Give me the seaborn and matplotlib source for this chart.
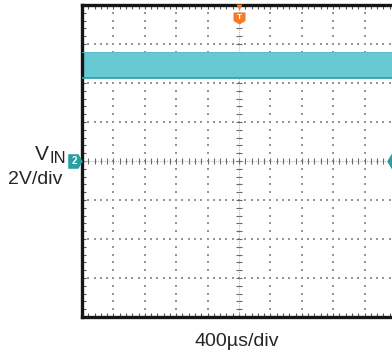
import numpy as np
import pandas as pd
import matplotlib
matplotlib.use("Agg")
import matplotlib.pyplot as plt
import seaborn as sns
from matplotlib.ticker import MultipleLocator

# ---- data (read from the scope capture) ----
time_us = [0, 4000]            # sweep: 10 div x 400 us
vin_upper = [5.57, 5.57]       # V, top of ripple band
vin_lower = [4.26, 4.26]       # V, bottom of ripple band
x_per_div = 400                # us/div
y_per_div = 2                  # V/div
ch_name = "V"
ch_sub = "IN"
scale_label = "2V/div"
time_label = "400\u00b5s/div"

sns.set_style("white")
plt.rcParams['font.family'] = ['Liberation Sans', 'DejaVu Sans']

fig = plt.figure(figsize=(3.92, 3.54), dpi=100)
ax = fig.add_axes([82/392, 37/354, 314/392, 312/354])

xmin, xmax = 0, 10 * x_per_div
ymin, ymax = -4 * y_per_div, 4 * y_per_div
ax.set_xlim(xmin, xmax)
ax.set_ylim(ymin, ymax)

# dotted graticule
grid_c = "#969696"
xmaj = np.arange(xmin + x_per_div, xmax, x_per_div)
ymaj = np.arange(ymin + y_per_div, ymax, y_per_div)
xmin_pts = np.arange(xmin, xmax + 1, x_per_div / 5)
ymin_pts = np.arange(ymin, ymax + 0.01, y_per_div / 5)
for yv in ymaj:
    if yv == 0:
        continue
    ax.scatter(xmin_pts, np.full_like(xmin_pts, yv, dtype=float), s=0.8,
               marker='s', color=grid_c, linewidths=0, zorder=1)
for xv in xmaj:
    if xv == 2000:
        continue
    ax.scatter(np.full_like(ymin_pts, xv, dtype=float), ymin_pts, s=0.8,
               marker='s', color=grid_c, linewidths=0, zorder=1)

# centre cross with tick marks
ax.axhline(0, color="#b8b8b8", lw=0.8, ls=(0, (1, 1)), zorder=1)
ax.axvline(2000, color="#b8b8b8", lw=0.8, ls=(0, (1, 1)), zorder=1)
xt = np.arange(xmin, xmax + 1, x_per_div / 5)
yt = np.arange(ymin, ymax + 0.01, y_per_div / 5)
ax.scatter(xt, np.zeros_like(xt, dtype=float), marker='|', s=14,
           color="#6a6a6a", linewidths=0.8, zorder=1)
ax.scatter(np.full_like(yt, 2000, dtype=float), yt, marker='_', s=14,
           color="#6a6a6a", linewidths=0.8, zorder=1)

# ripple band of VIN
df = pd.DataFrame({"t": time_us, "lo": vin_lower, "hi": vin_upper})
ax.fill_between(df["t"], df["lo"], df["hi"], color="#66c9d3", lw=0, zorder=2)
sns.lineplot(data=df, x="t", y="lo", ax=ax, color="#2a9ea3", lw=1.2, zorder=3)
sns.lineplot(data=df, x="t", y="hi", ax=ax, color="#58bcc6", lw=0.6, zorder=3)

# borders / ticks
for side in ["left", "bottom", "top"]:
    ax.spines[side].set_linewidth(2.4)
    ax.spines[side].set_color("#151515")
ax.spines["right"].set_visible(False)
ax.xaxis.set_major_locator(MultipleLocator(x_per_div))
ax.yaxis.set_major_locator(MultipleLocator(y_per_div))
ax.xaxis.set_minor_locator(MultipleLocator(x_per_div / 5))
ax.yaxis.set_minor_locator(MultipleLocator(y_per_div / 5))
ax.tick_params(which='both', direction='in', length=3, width=0.8, color="#555555",
               top=True, bottom=True, left=True, right=False,
               labelbottom=False, labelleft=False)
ax.set_xlabel("")
ax.set_ylabel("")

# channel-2 ground marker (left)
teal = "#2a9ea3"
lmarker = [(-1, 1), (0.4, 1), (1, 0), (0.4, -1), (-1, -1)]
ax.scatter([-0.22 * x_per_div], [0], marker=lmarker, s=110, color=teal,
           linewidths=0, clip_on=False, zorder=6)
ax.text(-0.25 * x_per_div, 0, "2", color="white", fontsize=7, fontweight='bold',
        ha='center', va='center', zorder=7, clip_on=False)
# right edge marker
rmarker = [(1, 1), (-0.4, 1), (-1, 0), (-0.4, -1), (1, -1)]
ax.scatter([9.93 * x_per_div], [0], marker=rmarker, s=110, color=teal,
           linewidths=0, clip_on=False, zorder=6)

# trigger marker (top)
orange = "#f37b2a"
tmarker = [(-1, 1), (1, 1), (1, -0.4), (0, -1), (-1, -0.4)]
ax.scatter([2000], [ymax - 0.33 * y_per_div], marker=tmarker, s=75, color=orange,
           linewidths=0, zorder=6)
ax.scatter([2000], [ymax - 0.05 * y_per_div], marker='v', s=18, color=orange,
           linewidths=0, zorder=6, clip_on=False)
ax.text(2000, ymax - 0.31 * y_per_div, "T", color="white", fontsize=6,
        fontweight='bold', ha='center', va='center', zorder=7)

# labels
fig.text(35/392, 1 - 160/354, ch_name, fontsize=15, ha='left', va='baseline')
fig.text(49.5/392, 1 - 163/354, ch_sub, fontsize=12, ha='left', va='baseline')
fig.text(35/392, 1 - 184/354, scale_label, fontsize=14, ha='center', va='baseline')
fig.text(237/392, 1 - 346/354, time_label, fontsize=14, ha='center', va='baseline')

fig.savefig("out.png", dpi=100)
